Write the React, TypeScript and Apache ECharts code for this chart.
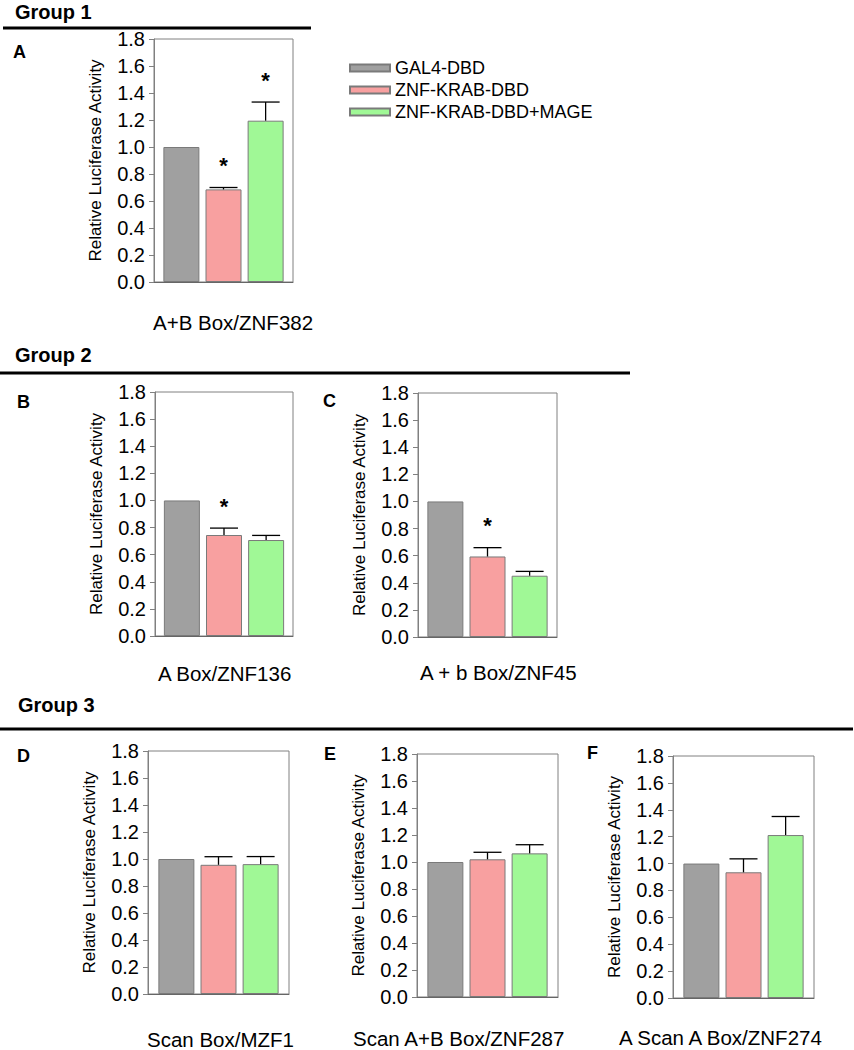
import React, { useEffect, useRef } from "react";
import * as echarts from "echarts";

// ---------- data ----------
const categories = ["GAL4-DBD", "ZNF-KRAB-DBD", "ZNF-KRAB-DBD+MAGE"];
const panelLetters = ["A", "B", "C", "D", "E", "F"];
const constructs = [
  "A+B Box/ZNF382",
  "A Box/ZNF136",
  "A + b Box/ZNF45",
  "Scan Box/MZF1",
  "Scan A+B Box/ZNF287",
  "A Scan A Box/ZNF274",
];
const groupTitles = ["Group 1", "Group 2", "Group 3"];
const gal4 = [1.0, 1.0, 1.0, 1.0, 1.0, 1.0];
const znfKrab = [0.686, 0.745, 0.594, 0.957, 1.02, 0.935];
const znfKrabMage = [1.195, 0.708, 0.452, 0.962, 1.064, 1.212];
const gal4Err = [0, 0, 0, 0, 0, 0];
const znfKrabErr = [0.014, 0.051, 0.065, 0.06, 0.052, 0.1];
const znfKrabMageErr = [0.138, 0.034, 0.032, 0.056, 0.064, 0.138];
const gal4Sig = [0, 0, 0, 0, 0, 0];
const znfKrabSig = [1, 1, 1, 0, 0, 0];
const znfKrabMageSig = [1, 0, 0, 0, 0, 0];
const yTicks = [0, 0.2, 0.4, 0.6, 0.8, 1.0, 1.2, 1.4, 1.6, 1.8];

// ---------- layout / style ----------
const FONT = "'Liberation Sans', Arial, Helvetica, sans-serif";
const colors = ["#a0a0a0", "#f8a0a0", "#a0f896"];
const BAR_W = 36;
const GAP = 0.17;
const CAP = 28;
const STAR_OFF = 22;
const FRAME = "#808080";

const grids = [
  { left: 154, top: 39, width: 139, height: 243 },
  { left: 155, top: 392, width: 138, height: 244 },
  { left: 418, top: 393, width: 139, height: 244 },
  { left: 148, top: 751, width: 141, height: 243 },
  { left: 417, top: 754, width: 141, height: 243 },
  { left: 673, top: 756, width: 141, height: 242 },
];
const letterPos = [
  [13, 52],
  [17, 402],
  [323, 401],
  [17, 756],
  [324, 754],
  [587, 753],
];
const constructPos = [
  [153, 322],
  [158, 673],
  [420, 672],
  [147, 1039],
  [353, 1038],
  [619, 1037],
];
const groupPos = [
  [15, 12],
  [15, 355],
  [18, 705],
];
const rulePos = [
  [3, 28, 311],
  [0, 373, 630],
  [0, 729, 853],
];

export default function App() {
  const ref = useRef<HTMLDivElement>(null);

  useEffect(() => {
    if (!ref.current) return;
    const chart = echarts.init(ref.current, undefined, { renderer: "svg" });

    const values = [gal4, znfKrab, znfKrabMage];
    const errs = [gal4Err, znfKrabErr, znfKrabMageErr];
    const sigs = [gal4Sig, znfKrabSig, znfKrabMageSig];

    const series: any[] = [];
    panelLetters.forEach((_, p) => {
      categories.forEach((name, k) => {
        series.push({
          type: "bar",
          name,
          xAxisIndex: p,
          yAxisIndex: p,
          barWidth: BAR_W,
          barGap: GAP * 100 + "%",
          data: [values[k][p]],
          itemStyle: { color: colors[k], borderColor: "#7a7a7a", borderWidth: 1 },
          emphasis: { disabled: true },
        });
      });
      series.push({
        type: "custom",
        xAxisIndex: p,
        yAxisIndex: p,
        z: 5,
        silent: true,
        data: categories.map((_, k) => [
          0,
          values[k][p],
          values[k][p] + errs[k][p],
          k,
          sigs[k][p],
        ]),
        renderItem: (params: any, api: any) => {
          const k = api.value(3);
          const base = api.coord([api.value(0), api.value(1)]);
          const top = api.coord([api.value(0), api.value(2)]);
          const cx = base[0] + (k - 1) * BAR_W * (1 + GAP);
          const children: any[] = [];
          if (api.value(2) > api.value(1)) {
            children.push({
              type: "line",
              shape: { x1: cx, y1: base[1], x2: cx, y2: top[1] },
              style: { stroke: "#000", lineWidth: 1.3 },
            });
            children.push({
              type: "line",
              shape: { x1: cx - CAP / 2, y1: top[1], x2: cx + CAP / 2, y2: top[1] },
              style: { stroke: "#000", lineWidth: 1.3 },
            });
          }
          if (api.value(4)) {
            children.push({
              type: "text",
              x: cx,
              y: top[1] - STAR_OFF,
              style: {
                text: "*",
                fill: "#000",
                font: `bold 22px ${FONT}`,
                align: "center",
                verticalAlign: "middle",
              },
            });
          }
          return { type: "group", children };
        },
      });
    });

    const graphic: any[] = [];
    groupTitles.forEach((t, i) => {
      graphic.push({
        type: "text",
        x: groupPos[i][0],
        y: groupPos[i][1],
        style: { text: t, font: `bold 20px ${FONT}`, fill: "#000", align: "left", verticalAlign: "middle" },
      });
      graphic.push({
        type: "line",
        shape: { x1: rulePos[i][0], y1: rulePos[i][1], x2: rulePos[i][2], y2: rulePos[i][1] },
        style: { stroke: "#000", lineWidth: 3 },
      });
    });
    panelLetters.forEach((l, i) => {
      graphic.push({
        type: "text",
        x: letterPos[i][0],
        y: letterPos[i][1],
        style: { text: l, font: `bold 18px ${FONT}`, fill: "#000", align: "left", verticalAlign: "middle" },
      });
      graphic.push({
        type: "text",
        x: constructPos[i][0],
        y: constructPos[i][1],
        style: { text: constructs[i], font: `20.5px ${FONT}`, fill: "#000", align: "left", verticalAlign: "middle" },
      });
    });

    chart.setOption({
      animation: false,
      backgroundColor: "#fff",
      textStyle: { fontFamily: FONT },
      legend: {
        data: categories,
        orient: "vertical",
        left: 344,
        top: 54,
        icon: "rect",
        itemWidth: 40,
        itemHeight: 7,
        itemGap: 4,
        selectedMode: false,
        textStyle: { fontSize: 18, lineHeight: 18, color: "#000", fontFamily: FONT },
      },
      grid: grids.map((g) => ({
        ...g,
        show: true,
        borderColor: FRAME,
        borderWidth: 1,
        backgroundColor: "transparent",
        containLabel: false,
      })),
      xAxis: grids.map((_, i) => ({
        type: "category",
        gridIndex: i,
        data: [""],
        axisLine: { show: true, lineStyle: { color: "#666", width: 1 } },
        axisTick: { show: false },
        axisLabel: { show: false },
        splitLine: { show: false },
      })),
      yAxis: grids.map((_, i) => ({
        type: "value",
        gridIndex: i,
        min: yTicks[0],
        max: yTicks[yTicks.length - 1],
        interval: 0.2,
        name: "Relative Luciferase Activity",
        nameLocation: "middle",
        nameGap: 50,
        nameTextStyle: { fontSize: 17, color: "#000", fontFamily: FONT },
        axisLine: { show: true, lineStyle: { color: FRAME, width: 1 } },
        axisTick: { show: true, inside: false, length: 5, lineStyle: { color: FRAME } },
        axisLabel: {
          fontSize: 20,
          color: "#000",
          margin: 9,
          fontFamily: FONT,
          formatter: (v: number) => v.toFixed(1),
        },
        splitLine: { show: false },
      })),
      series,
      graphic,
    });

    return () => chart.dispose();
  }, []);

  return (
    <div
      ref={ref}
      style={{ position: "absolute", left: 0, top: 0, width: 854, height: 1050 }}
    />
  );
}
